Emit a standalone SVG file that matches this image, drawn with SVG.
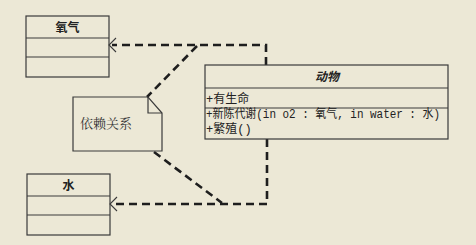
<svg xmlns="http://www.w3.org/2000/svg" width="476" height="245" viewBox="0 0 476 245">
  <defs>
    <style>
      .box { fill: none; stroke: #3a3a3a; stroke-width: 1.2; }
      .dep { fill: none; stroke: #1e1e1e; stroke-width: 2.6; stroke-dasharray: 8 5; }
      .head { fill: none; stroke: #3a3a3a; stroke-width: 1.1; }
      .title { font-family: "Noto Sans CJK SC", sans-serif; font-size: 12px; font-weight: bold; fill: #222; text-anchor: middle; }
      .member { font-family: "Liberation Mono", "Noto Sans CJK SC", monospace; font-size: 12px; fill: #222; }
      .note-text { font-family: "Noto Serif CJK SC", "Noto Sans CJK SC", serif; font-size: 13px; fill: #333; }
    </style>
  </defs>

  <rect width="476" height="245" fill="#ece8d6"/>

  <!-- dependency connectors -->
  <g id="connectors">
    <polyline class="dep" points="266,65 266,45 197,45 112,45"/>
    <line class="dep" x1="197" y1="46" x2="147" y2="97"/>
    <polyline class="head" points="116,38 109,45 116,52"/>
    <polyline class="dep" points="267,139 267,204 222,204 113,204"/>
    <line class="dep" x1="154" y1="152" x2="222" y2="203"/>
    <polyline class="head" points="117,197 110,204 117,211"/>
  </g>

  <!-- class: oxygen -->
  <g id="oxygen">
    <rect class="box" x="26" y="16" width="83" height="61"/>
    <line class="box" x1="26" y1="38" x2="109" y2="38"/>
    <line class="box" x1="26" y1="57" x2="109" y2="57"/>
    <text class="title" x="67.5" y="32">氧气</text>
  </g>

  <!-- class: water -->
  <g id="water">
    <rect class="box" x="27" y="174" width="83" height="61"/>
    <line class="box" x1="27" y1="196" x2="110" y2="196"/>
    <line class="box" x1="27" y1="215" x2="110" y2="215"/>
    <text class="title" x="68.5" y="190">水</text>
  </g>

  <!-- class: animal -->
  <g id="animal">
    <rect class="box" x="205" y="65" width="243" height="74"/>
    <line class="box" x1="205" y1="88" x2="448" y2="88"/>
    <line class="box" x1="205" y1="108" x2="448" y2="108"/>
    <text class="title" x="327" y="81" font-style="italic">动物</text>
    <text class="member" x="206" y="103">+有生命</text>
    <text class="member" x="206" y="118" textLength="234" lengthAdjust="spacingAndGlyphs">+新陈代谢(in o2 : 氧气, in water  : 水)</text>
    <text class="member" x="206" y="133">+繁殖()</text>
  </g>

  <!-- note -->
  <g id="note">
    <path class="box" d="M73,97 H148 L162,113 V151 H73 Z"/>
    <path class="box" d="M148,97 V113 H162"/>
    <text class="note-text" x="80" y="128">依赖关系</text>
  </g>
</svg>
